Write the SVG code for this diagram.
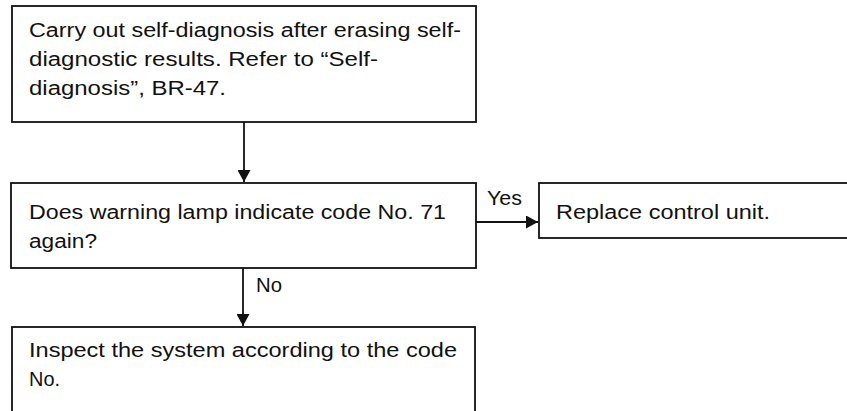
<svg xmlns="http://www.w3.org/2000/svg" width="847" height="411" viewBox="0 0 847 411">
<style>
.box{fill:#fff;stroke:#111;stroke-width:1.8}
.t{font-family:"Liberation Sans",Arial,sans-serif;font-size:20px;fill:#111}
.c{stroke:#111;stroke-width:1.8;fill:none}
</style>
<defs>
<marker id="ah" viewBox="0 0 12 13" refX="12" refY="6.5" markerWidth="12" markerHeight="13" markerUnits="userSpaceOnUse" orient="auto">
<path d="M0,0 L12,6.5 L0,13 Z" fill="#111"/>
</marker>
</defs>
<rect width="847" height="411" fill="#fff"/>
<g id="n1">
<rect class="box" x="12" y="6" width="464" height="116"/>
<text class="t" x="29" y="37" textLength="432" lengthAdjust="spacingAndGlyphs">Carry out self-diagnosis after erasing self-</text>
<text class="t" x="29" y="66" textLength="349" lengthAdjust="spacingAndGlyphs">diagnostic results. Refer to “Self-</text>
<text class="t" x="29" y="95" textLength="197" lengthAdjust="spacingAndGlyphs">diagnosis”, BR-47.</text>
</g>
<g id="n2">
<rect class="box" x="11" y="183" width="465" height="85"/>
<text class="t" x="29" y="219" textLength="417" lengthAdjust="spacingAndGlyphs">Does warning lamp indicate code No. 71</text>
<text class="t" x="29" y="248" textLength="68" lengthAdjust="spacingAndGlyphs">again?</text>
</g>
<g id="n3">
<rect class="box" x="539" y="183" width="320" height="55"/>
<text class="t" x="556" y="219" textLength="214" lengthAdjust="spacingAndGlyphs">Replace control unit.</text>
</g>
<g id="n4">
<rect class="box" x="12" y="327" width="463" height="100"/>
<text class="t" x="29" y="357" textLength="428" lengthAdjust="spacingAndGlyphs">Inspect the system according to the code</text>
<text class="t" x="29" y="386" textLength="31" lengthAdjust="spacingAndGlyphs">No.</text>
</g>
<g id="connectors">
<line class="c" x1="244" y1="122" x2="244" y2="182" marker-end="url(#ah)"/>
<line class="c" x1="476" y1="222" x2="538" y2="222" marker-end="url(#ah)"/>
<line class="c" x1="243" y1="268" x2="243" y2="326" marker-end="url(#ah)"/>
<text class="t" x="487" y="205" textLength="35" lengthAdjust="spacingAndGlyphs">Yes</text>
<text class="t" x="256" y="292" textLength="26" lengthAdjust="spacingAndGlyphs">No</text>
</g>
</svg>
